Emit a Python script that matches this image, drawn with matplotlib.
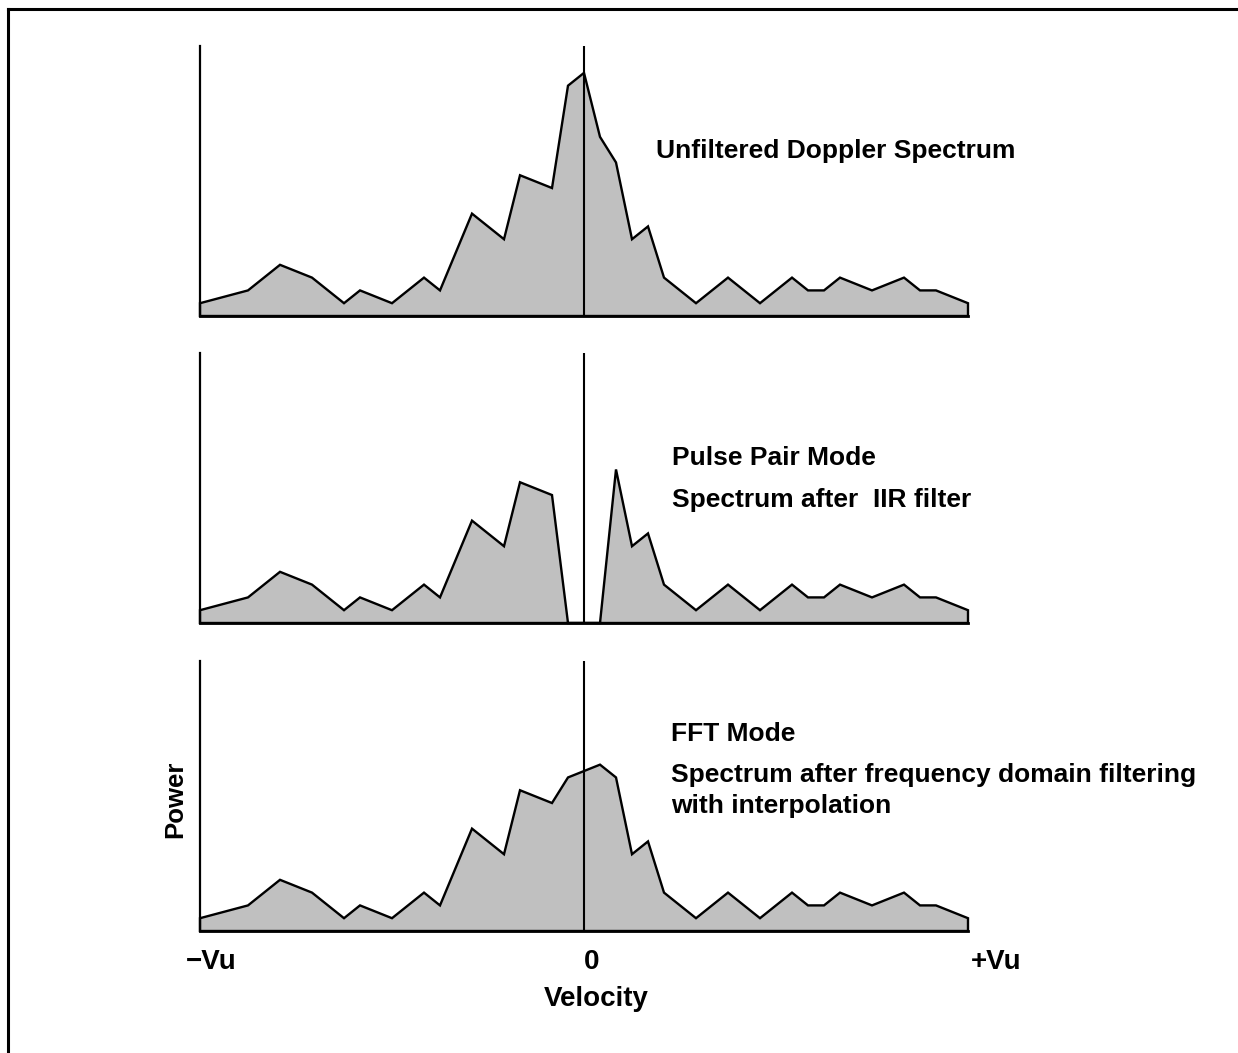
import numpy as np
import matplotlib.pyplot as plt

# velocity bins (-24 = -Vu, 0 = 0, +24 = +Vu)
vel = [-24, -21, -19, -17, -15, -14, -12, -10, -9, -7, -5, -4, -2, -1, 0,
       1, 2, 3, 4, 5, 7, 9, 11, 13, 14, 15, 16, 18, 20, 21, 22, 24]

# power, one list per panel
unfiltered = [1, 2, 4, 3, 1, 2, 1, 3, 2, 8, 6, 11, 10, 18, 19,
              14, 12, 6, 7, 3, 1, 3, 1, 3, 2, 2, 3, 2, 3, 2, 2, 1]
pulse_pair = [1, 2, 4, 3, 1, 2, 1, 3, 2, 8, 6, 11, 10, 0, 0,
              0, 12, 6, 7, 3, 1, 3, 1, 3, 2, 2, 3, 2, 3, 2, 2, 1]
fft_mode = [1, 2, 4, 3, 1, 2, 1, 3, 2, 8, 6, 11, 10, 12, 12.5,
            13, 12, 6, 7, 3, 1, 3, 1, 3, 2, 2, 3, 2, 3, 2, 2, 1]

panels = [
    (unfiltered, 316, [("Unfiltered Doppler Spectrum", 656, 158)]),
    (pulse_pair, 623, [("Pulse Pair Mode", 672, 465),
                       ("Spectrum after  IIR filter", 672, 507)]),
    (fft_mode, 931, [("FFT Mode", 671, 741),
                     ("Spectrum after frequency domain filtering", 671, 782),
                     ("with interpolation", 671, 813)]),
]

W, H = 1238, 1053
plt.rcParams['font.family'] = ['Liberation Sans', 'DejaVu Sans']
fig = plt.figure(figsize=(W / 100, H / 100), dpi=100)

def fx(x):
    return x / W

def fy(y):
    return 1 - y / H

# outer frame (only top and left edges fall inside the picture)
fig.add_artist(plt.Line2D([fx(8), fx(8)], [0, fy(9)], color='k', lw=2.2))
fig.add_artist(plt.Line2D([fx(8), 1], [fy(9), fy(9)], color='k', lw=2.2))

ymax = 21.1
for power, base, labels in panels:
    ax = fig.add_axes([fx(200), fy(base), 768 / W, 270 / H])
    ax.fill(np.r_[vel, 24, -24], np.r_[power, 0, 0], facecolor='#c0c0c0',
            edgecolor='k', lw=1.7, joinstyle='miter', clip_on=False)
    ax.axvline(0, color='k', lw=1.5)
    ax.set_xlim(-24, 24)
    ax.set_ylim(0, ymax)
    for s in ['top', 'right']:
        ax.spines[s].set_visible(False)
    ax.spines['left'].set_linewidth(1.6)
    ax.spines['bottom'].set_linewidth(2.0)
    ax.set_xticks([])
    ax.set_yticks([])
    ax.patch.set_alpha(0)
    for txt, x, y in labels:
        fig.text(fx(x), fy(y), txt, fontsize=19, fontweight='bold',
                 ha='left', va='baseline')

# axis labels
for txt, x in [("\u2212Vu", 211), ("0", 592), ("+Vu", 996)]:
    fig.text(fx(x), fy(969), txt, fontsize=20, fontweight='bold',
             ha='center', va='baseline')
fig.text(fx(596), fy(1006), "Velocity", fontsize=20, fontweight='bold',
         ha='center', va='baseline')
fig.text(fx(175), fy(799), "Power", fontsize=18.5, fontweight='bold',
         ha='center', va='center', rotation=90)

fig.savefig('out.png', dpi=100)
